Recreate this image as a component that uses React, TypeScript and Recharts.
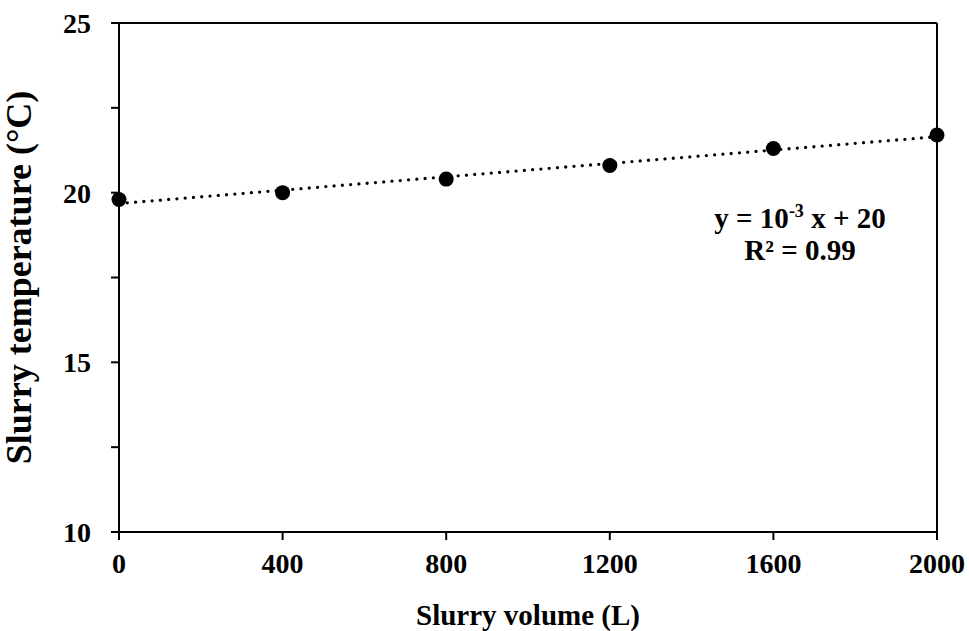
import React from 'react';
import { ComposedChart, XAxis, YAxis, Scatter, Line, ReferenceLine } from 'recharts';

const volumes = [0, 400, 800, 1200, 1600, 2000];
const temperatures = [19.8, 20.0, 20.4, 20.8, 21.3, 21.7];
const trendX = [0, 2000];
const trendY = [19.68, 21.65];
const xTicks = [0, 400, 800, 1200, 1600, 2000];
const yTicks = [10, 12.5, 15, 17.5, 20, 22.5, 25];

const points = volumes.map((x, i) => ({ x, y: temperatures[i] }));
const trend = trendX.map((x, i) => ({ x, y: trendY[i] }));

const FONT = '"Liberation Serif", "Times New Roman", serif';
const boldStyle = { fontFamily: FONT, fontWeight: 700 };

const Dot = (props: any) => <circle cx={props.cx} cy={props.cy} r={7.5} fill="#000" />;

const XTick = (props: any) => {
  const { x, y, payload } = props;
  return (
    <text x={x} y={y} dy="0.71em" textAnchor="middle" style={boldStyle} fontSize={28} fill="#000">
      {payload.value}
    </text>
  );
};

const YTick = (props: any) => {
  const { x, y, payload } = props;
  const v = payload.value;
  if (v % 5 !== 0) return <g />;
  return (
    <text x={x} y={y} dy="0.355em" textAnchor="end" style={boldStyle} fontSize={28} fill="#000">
      {v}
    </text>
  );
};

const YTitle = (props: any) => {
  const vb = props.viewBox || {};
  const cx = 31;
  const cy = (vb.y ?? 23) + (vb.height ?? 509) / 2;
  return (
    <text
      x={cx}
      y={cy}
      transform={`rotate(-90, ${cx}, ${cy})`}
      textAnchor="middle"
      style={boldStyle}
      fontSize={36}
      fill="#000"
    >
      Slurry temperature (°C)
    </text>
  );
};

const XTitle = (props: any) => {
  const vb = props.viewBox || {};
  const cx = (vb.x ?? 119) + (vb.width ?? 818) / 2;
  return (
    <text x={cx} y={625} textAnchor="middle" style={boldStyle} fontSize={29} fill="#000">
      Slurry volume (L)
    </text>
  );
};

export default function App() {
  return (
    <div style={{ position: 'absolute', left: 0, top: 0, width: 969, height: 631, background: '#fff' }}>
      <ComposedChart width={969} height={631} margin={{ top: 23, right: 32, left: 0, bottom: 0 }}>
        <XAxis
          dataKey="x"
          type="number"
          domain={[0, 2000]}
          ticks={xTicks}
          interval={0}
          tickSize={8}
          tickMargin={13}
          height={99}
          stroke="#000"
          strokeWidth={2}
          tick={<XTick />}
          label={<XTitle />}
        />
        <YAxis
          dataKey="y"
          type="number"
          domain={[10, 25]}
          ticks={yTicks}
          interval={0}
          tickSize={8}
          tickMargin={20}
          width={119}
          stroke="#000"
          strokeWidth={2}
          tick={<YTick />}
          label={<YTitle />}
        />
        <ReferenceLine y={25} stroke="#000" strokeWidth={2} />
        <ReferenceLine x={2000} stroke="#000" strokeWidth={2} />
        <Line
          data={trend}
          dataKey="y"
          stroke="#000"
          strokeWidth={3.3}
          strokeDasharray="0 8.3"
          strokeLinecap="round"
          dot={false}
          activeDot={false}
          isAnimationActive={false}
          legendType="none"
        />
        <Scatter data={points} dataKey="y" fill="#000" shape={<Dot />} isAnimationActive={false} />
      </ComposedChart>
      <svg width={969} height={631} style={{ position: 'absolute', left: 0, top: 0, pointerEvents: 'none' }}>
        <text x={800} y={228} textAnchor="middle" style={boldStyle} fontSize={29} fill="#000">
          <tspan>y = 10</tspan>
          <tspan dy={-11} fontSize={18}>-3</tspan>
          <tspan dy={11}> x + 20</tspan>
        </text>
        <text x={800} y={260} textAnchor="middle" style={boldStyle} fontSize={29} fill="#000">
          R² = 0.99
        </text>
      </svg>
    </div>
  );
}
